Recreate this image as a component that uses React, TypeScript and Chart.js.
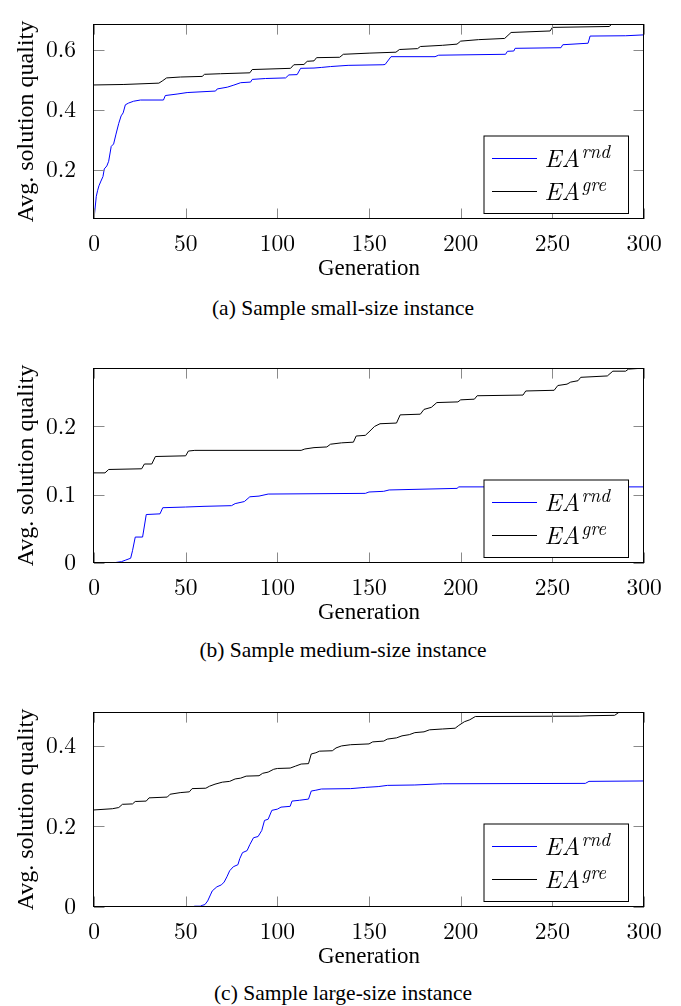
import React, { useEffect, useRef } from "react";
import { Chart, registerables } from "chart.js";
Chart.register(...registerables);

// ---------- shared labels ----------
const generationTicks = [0, 50, 100, 150, 200, 250, 300];
const legendBase = ["EA", "EA"];
const legendSup = ["rnd", "gre"];
const seriesColors = ["rgb(0,0,255)", "rgb(0,0,0)"];
const xTitle = "Generation";
const yTitle = "Avg. solution quality";

// ---------- (a) small-size instance ----------
const smallRndGen = [0, 1.25, 2, 2.7, 3.8, 4.9, 5.6, 7, 8, 9.4, 10.7, 12, 13.5, 14.8, 15.9, 17.1, 18.9, 21.6, 25.3, 37.9, 38.9, 45.3, 50.8, 66.3, 67.2, 72.7, 76.3, 80, 85.4, 86.3, 93.6, 104.5, 106.3, 110.8, 112.7, 120, 124, 129, 138.6, 157.6, 158.8, 162, 186, 188, 224.5, 225.5, 229, 229.7, 254.7, 255.7, 269.5, 270.6, 290, 300];
const smallRndVal = [0.035, 0.111, 0.131, 0.146, 0.162, 0.177, 0.2025, 0.2125, 0.228, 0.278, 0.286, 0.319, 0.355, 0.38, 0.39, 0.417, 0.423, 0.429, 0.433, 0.433, 0.448, 0.453, 0.458, 0.463, 0.47, 0.476, 0.483, 0.491, 0.493, 0.502, 0.505, 0.507, 0.517, 0.518, 0.539, 0.54, 0.542, 0.545, 0.549, 0.551, 0.552, 0.578, 0.578, 0.583, 0.586, 0.596, 0.597, 0.606, 0.608, 0.618, 0.623, 0.647, 0.648, 0.651];
const smallGreGen = [0, 16.3, 35.4, 37.2, 39.6, 47.2, 59, 60.3, 69, 85, 86.3, 107.2, 109, 114.5, 116.3, 120, 121.4, 134, 136, 150.5, 164.7, 166.6, 176.5, 178, 190, 198, 200, 209.7, 224, 227.5, 248.8, 250, 281, 282.5, 300];
const smallGreVal = [0.4834, 0.485, 0.4895, 0.4965, 0.507, 0.51, 0.512, 0.519, 0.521, 0.524, 0.535, 0.539, 0.551, 0.552, 0.5625, 0.564, 0.5747, 0.576, 0.586, 0.59, 0.593, 0.602, 0.605, 0.612, 0.616, 0.62, 0.63, 0.635, 0.639, 0.659, 0.664, 0.676, 0.679, 0.687, 0.688];
const smallYTicks = [0.2, 0.4, 0.6];
const smallYRange = [0.035, 0.687];

// ---------- (b) medium-size instance ----------
const mediumRndGen = [0, 10, 15, 17, 20, 21, 22.5, 26.5, 28.5, 36, 37.5, 50, 60, 75, 77, 82, 85, 90, 95, 148, 150, 158, 161, 198, 199, 300];
const mediumRndVal = [0, 0, 0.002, 0.004, 0.007, 0.018, 0.038, 0.038, 0.071, 0.072, 0.081, 0.082, 0.083, 0.084, 0.087, 0.09, 0.097, 0.098, 0.101, 0.102, 0.104, 0.105, 0.107, 0.1093, 0.1115, 0.1115];
const mediumGreGen = [0, 6, 8, 26, 27.5, 31.5, 33.5, 50, 51.5, 55, 113, 115, 120, 127, 129, 135, 141.5, 143, 148, 150, 153, 156, 165, 167, 178, 180, 184, 187, 198.5, 200, 207.5, 209, 234, 235.5, 251, 253, 258, 260, 264, 265.5, 280, 283, 290, 291.5, 300];
const mediumGreVal = [0.132, 0.132, 0.137, 0.138, 0.145, 0.145, 0.156, 0.157, 0.164, 0.165, 0.165, 0.167, 0.169, 0.17, 0.174, 0.176, 0.177, 0.186, 0.187, 0.192, 0.2, 0.204, 0.205, 0.217, 0.218, 0.225, 0.228, 0.235, 0.236, 0.239, 0.24, 0.245, 0.246, 0.252, 0.253, 0.26, 0.262, 0.265, 0.267, 0.272, 0.274, 0.281, 0.281, 0.284, 0.2855];
const mediumYTicks = [0, 0.1, 0.2];
const mediumYRange = [0, 0.2855];

// ---------- (c) large-size instance ----------
const largeRndGen = [0, 53, 55, 58, 59, 60.5, 62, 63.5, 64.5, 67, 69.5, 71, 72.5, 74, 76, 78.5, 79.5, 81, 83.5, 85, 87, 89.5, 91.5, 93, 95, 97, 100, 102, 107, 108, 112, 117, 118.5, 121, 124, 140, 148, 155, 160, 175, 190, 268, 270, 300];
const largeRndVal = [0, 0, 0.002, 0.002, 0.004, 0.006, 0.015, 0.03, 0.04, 0.05, 0.055, 0.062, 0.075, 0.09, 0.1, 0.105, 0.12, 0.135, 0.14, 0.155, 0.172, 0.175, 0.19, 0.215, 0.218, 0.24, 0.243, 0.248, 0.25, 0.263, 0.265, 0.268, 0.288, 0.29, 0.293, 0.294, 0.297, 0.299, 0.302, 0.303, 0.306, 0.307, 0.312, 0.313];
const largeGreGen = [0, 10, 13.5, 15.5, 21, 22.5, 28.5, 30, 40, 41.5, 47, 52, 53.5, 61, 63, 66, 70, 74, 77, 80, 83, 90, 92, 95, 98, 100, 107, 110, 113, 117, 118.5, 121, 123, 130, 132, 135, 140, 150, 152, 158, 160, 165, 168, 172, 175, 180, 183, 190, 197, 199, 202, 205, 208, 265, 270, 284, 286.5, 300];
const largeGreVal = [0.241, 0.244, 0.247, 0.255, 0.256, 0.262, 0.263, 0.271, 0.273, 0.28, 0.284, 0.286, 0.294, 0.295, 0.3, 0.305, 0.31, 0.312, 0.318, 0.32, 0.325, 0.326, 0.332, 0.335, 0.342, 0.344, 0.345, 0.35, 0.355, 0.356, 0.38, 0.383, 0.387, 0.388, 0.395, 0.4, 0.403, 0.405, 0.41, 0.412, 0.417, 0.42, 0.425, 0.428, 0.433, 0.435, 0.44, 0.442, 0.444, 0.451, 0.46, 0.465, 0.473, 0.474, 0.475, 0.476, 0.484, 0.484];
const largeYTicks = [0, 0.2, 0.4];
const largeYRange = [0, 0.484];

const captions = [
  "(a) Sample small-size instance",
  "(b) Sample medium-size instance",
  "(c) Sample large-size instance",
];

const SERIF = '"Liberation Serif"';
const CM = '"Latin Modern Roman"';

function fmtTick(v: number) {
  return String(Math.round(v * 1000) / 1000);
}

const framePlugin = {
  id: "pgfFrame",
  afterDatasetsDraw(chart: any) {
    const { ctx, chartArea: a, scales } = chart;
    const L = 10.5;
    ctx.save();
    ctx.strokeStyle = "#8a8a8a";
    ctx.lineWidth = 1;
    ctx.beginPath();
    for (const t of scales.x.ticks) {
      const px = Math.round(scales.x.getPixelForValue(t.value)) + 0.5;
      ctx.moveTo(px, a.bottom);
      ctx.lineTo(px, a.bottom - L);
      ctx.moveTo(px, a.top);
      ctx.lineTo(px, a.top + L);
    }
    for (const t of scales.y.ticks) {
      const py = Math.round(scales.y.getPixelForValue(t.value)) + 0.5;
      ctx.moveTo(a.left, py);
      ctx.lineTo(a.left + L, py);
      ctx.moveTo(a.right, py);
      ctx.lineTo(a.right - L, py);
    }
    ctx.stroke();
    ctx.strokeStyle = "#000";
    const l = Math.round(a.left) - 0.5;
    const r = Math.round(a.right) - 0.5;
    const t = Math.round(a.top) + 0.5;
    const b = Math.round(a.bottom) - 0.5;
    ctx.strokeRect(l, t, r - l, b - t);
    ctx.restore();
  },
  afterDraw(chart: any) {
    const { ctx, chartArea: a } = chart;
    const W = a.right - a.left;
    const H = a.bottom - a.top;
    const bw = 144.5;
    const bh = 77.5;
    const right = Math.round(a.left + 0.97 * W) + 0.5;
    const bottom = Math.round(a.bottom - 0.03 * H) + 0.5;
    const left = right - bw;
    const top = bottom - bh;
    ctx.save();
    ctx.fillStyle = "#fff";
    ctx.fillRect(left, top, bw, bh);
    ctx.lineWidth = 1;
    ctx.strokeStyle = "#000";
    ctx.strokeRect(left, top, bw, bh);
    const lineYs = [22, 55];
    const baseYs = [31.4, 64];
    for (let i = 0; i < legendBase.length; i++) {
      const ly = Math.round(top + lineYs[i]) + 0.5;
      ctx.lineWidth = 1;
      ctx.strokeStyle = seriesColors[i];
      ctx.beginPath();
      ctx.moveTo(left + 8, ly);
      ctx.lineTo(left + 53, ly);
      ctx.stroke();
      ctx.fillStyle = "#000";
      ctx.textBaseline = "alphabetic";
      ctx.textAlign = "left";
      ctx.font = `italic 25px ${CM}`;
      const x0 = left + 60.5;
      ctx.fillText(legendBase[i], x0, top + baseYs[i]);
      const w = ctx.measureText(legendBase[i]).width;
      ctx.font = `italic 19px ${CM}`;
      ctx.fillText(legendSup[i], x0 + w + 1.5, top + baseYs[i] - 9.5);
    }
    ctx.restore();
  },
};

type PanelProps = {
  top: number;
  rndGen: number[];
  rndVal: number[];
  greGen: number[];
  greVal: number[];
  yTicks: number[];
  yRange: number[];
  caption: string;
  captionY: number;
};

const CANVAS_H = 285;

function Panel(p: PanelProps) {
  const ref = useRef<HTMLCanvasElement>(null);
  useEffect(() => {
    if (!ref.current) return;
    const chart = new Chart(ref.current, {
      type: "line",
      data: {
        datasets: [
          {
            label: legendBase[0] + legendSup[0],
            data: p.rndGen.map((g, i) => ({ x: g, y: p.rndVal[i] })),
            borderColor: seriesColors[0],
            borderWidth: 1,
            pointRadius: 0,
            tension: 0,
            fill: false,
          },
          {
            label: legendBase[1] + legendSup[1],
            data: p.greGen.map((g, i) => ({ x: g, y: p.greVal[i] })),
            borderColor: seriesColors[1],
            borderWidth: 1,
            pointRadius: 0,
            tension: 0,
            fill: false,
          },
        ],
      },
      options: {
        responsive: false,
        animation: false,
        events: [],
        layout: { padding: { top: 4, right: 37, left: 0, bottom: 0 } },
        plugins: { legend: { display: false }, tooltip: { enabled: false } },
        scales: {
          x: {
            type: "linear",
            min: 0,
            max: 300,
            grid: { display: false },
            border: { display: false },
            afterBuildTicks: (s: any) => {
              s.ticks = generationTicks.map((v) => ({ value: v }));
            },
            afterFit: (s: any) => {
              s.height = 66;
            },
            ticks: {
              padding: 3,
              color: "#000",
              font: { family: CM, size: 23.5 },
              maxRotation: 0,
              callback: (v: any) => fmtTick(Number(v)),
            },
            title: {
              display: true,
              text: xTitle,
              color: "#000",
              font: { family: SERIF, size: 23 },
              padding: { top: 0, bottom: 2 },
            },
          },
          y: {
            type: "linear",
            min: p.yRange[0],
            max: p.yRange[1],
            grid: { display: false },
            border: { display: false },
            afterBuildTicks: (s: any) => {
              s.ticks = p.yTicks.map((v) => ({ value: v }));
            },
            afterFit: (s: any) => {
              s.width = 94;
            },
            ticks: {
              padding: 10,
              color: "#000",
              font: { family: CM, size: 23.5 },
              callback: (v: any) => fmtTick(Number(v)),
            },
            title: {
              display: true,
              text: yTitle,
              color: "#000",
              font: { family: SERIF, size: 24 },
              padding: { top: 12, bottom: 0 },
            },
          },
        },
      },
      plugins: [framePlugin],
    } as any);
    return () => chart.destroy();
  }, []);
  return (
    <>
      <canvas
        ref={ref}
        width={681}
        height={CANVAS_H}
        style={{ position: "absolute", left: 0, top: p.top, width: 681, height: CANVAS_H }}
      />
      <div
        style={{
          position: "absolute",
          left: 0,
          width: 686,
          top: p.captionY - 12,
          height: 24,
          lineHeight: "24px",
          textAlign: "center",
          fontFamily: SERIF,
          fontSize: "21.5px",
          color: "#000",
          whiteSpace: "nowrap",
        }}
      >
        {p.caption}
      </div>
    </>
  );
}

export default function App() {
  return (
    <div
      style={{
        position: "absolute",
        left: 0,
        top: 0,
        width: 681,
        height: 1006,
        background: "#fff",
        overflow: "hidden",
      }}
    >
      <Panel
        top={0}
        rndGen={smallRndGen}
        rndVal={smallRndVal}
        greGen={smallGreGen}
        greVal={smallGreVal}
        yTicks={smallYTicks}
        yRange={smallYRange}
        caption={captions[0]}
        captionY={308}
      />
      <Panel
        top={344}
        rndGen={mediumRndGen}
        rndVal={mediumRndVal}
        greGen={mediumGreGen}
        greVal={mediumGreVal}
        yTicks={mediumYTicks}
        yRange={mediumYRange}
        caption={captions[1]}
        captionY={650}
      />
      <Panel
        top={688}
        rndGen={largeRndGen}
        rndVal={largeRndVal}
        greGen={largeGreGen}
        greVal={largeGreVal}
        yTicks={largeYTicks}
        yRange={largeYRange}
        caption={captions[2]}
        captionY={993}
      />
    </div>
  );
}
